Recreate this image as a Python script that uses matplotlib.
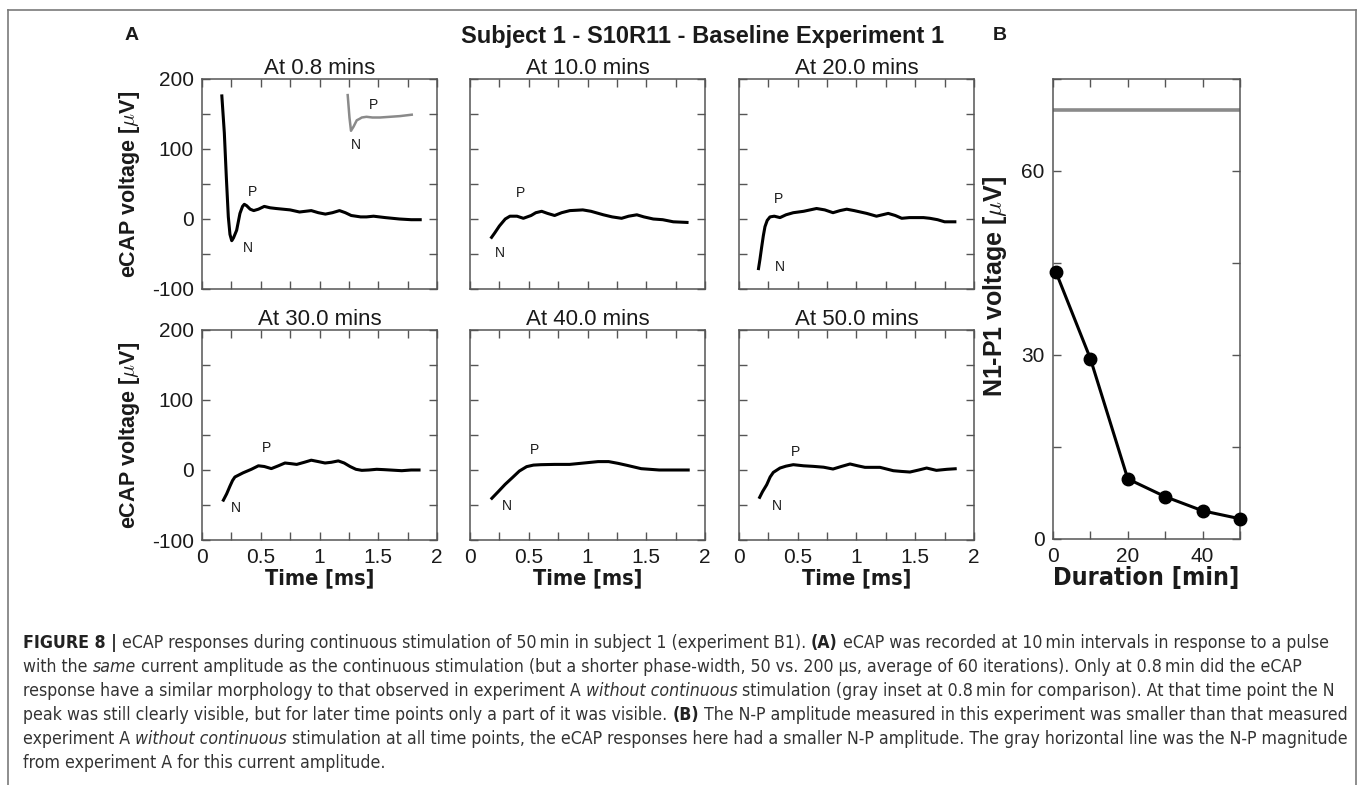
import matplotlib
matplotlib.use("Agg")
import matplotlib.pyplot as plt
import matplotlib.font_manager as fm
from matplotlib.lines import Line2D
from matplotlib.ticker import MultipleLocator

plt.rcParams['font.family'] = ['Liberation Sans', 'DejaVu Sans']
plt.rcParams['mathtext.fontset'] = 'cm'

# ---- data ----
titles = ['At 0.8 mins', 'At 10.0 mins', 'At 20.0 mins',
          'At 30.0 mins', 'At 40.0 mins', 'At 50.0 mins']

t_08 = [0.168, 0.19, 0.207, 0.224, 0.238, 0.253, 0.268, 0.295, 0.323, 0.345, 0.36, 0.38,
        0.41, 0.44, 0.48, 0.53, 0.58, 0.63, 0.69, 0.75, 0.83, 0.88, 0.93, 0.99, 1.05,
        1.11, 1.17, 1.22, 1.27, 1.35, 1.40, 1.46, 1.51, 1.56, 1.62, 1.68, 1.78, 1.87]
v_08 = [178, 123, 60, 3, -22, -31, -27, -16, 8, 18, 21, 19,
        14, 12, 14, 18, 16, 15, 14, 13, 10, 11, 12, 9, 7,
        9, 12, 9, 5, 3, 3, 4, 3, 2, 1, 0, -1, -1]

t_10 = [0.176, 0.21, 0.25, 0.30, 0.34, 0.40, 0.454, 0.52, 0.56, 0.61, 0.66, 0.72, 0.78,
        0.85, 0.96, 1.03, 1.135, 1.21, 1.29, 1.35, 1.42, 1.48, 1.56, 1.64, 1.73, 1.86]
v_10 = [-28, -20, -10, 0, 4, 4, 1, 5, 9, 11, 8, 5, 9,
        12, 13, 11, 6, 3, 1, 4, 6, 3, 0, -1, -4, -5]

t_20 = [0.164, 0.178, 0.193, 0.207, 0.221, 0.24, 0.264, 0.30, 0.349, 0.40, 0.462, 0.55,
        0.66, 0.73, 0.80, 0.86, 0.917, 0.98, 1.087, 1.17, 1.27, 1.33, 1.385, 1.45, 1.51,
        1.57, 1.625, 1.69, 1.75, 1.85]
v_20 = [-73, -58, -40, -24, -11, -2, 3, 4, 2, 6, 9, 11,
        15, 13, 9, 12, 14, 12, 8, 4, 8, 5, 1, 2, 2,
        2, 1, -1, -4, -4]

t_30 = [0.176, 0.21, 0.238, 0.26, 0.28, 0.35, 0.42, 0.48, 0.53, 0.59, 0.65, 0.706, 0.76,
        0.806, 0.87, 0.93, 0.99, 1.047, 1.10, 1.16, 1.21, 1.26, 1.31, 1.36, 1.42, 1.487,
        1.55, 1.60, 1.70, 1.78, 1.86]
v_30 = [-45, -34, -23, -15, -10, -4, 1, 6, 5, 2, 6, 10, 9,
        8, 11, 14, 12, 10, 11, 13, 10, 5, 1, -0.5, 0, 1,
        0.5, 0, -1, 0, 0]

t_40 = [0.177, 0.24, 0.299, 0.36, 0.42, 0.482, 0.54, 0.604, 0.72, 0.848, 0.97, 1.09,
        1.18, 1.26, 1.335, 1.457, 1.61, 1.74, 1.87]
v_40 = [-42, -31, -20.5, -11, -1.5, 4.8, 7, 7.6, 8, 8, 10, 12,
        12, 9.5, 6.7, 1.9, 0, 0, 0]

t_50 = [0.17, 0.2, 0.236, 0.265, 0.292, 0.349, 0.40, 0.462, 0.55, 0.632, 0.72, 0.80,
        0.87, 0.945, 1.01, 1.072, 1.2, 1.313, 1.38, 1.455, 1.53, 1.597, 1.68, 1.77, 1.853]
v_50 = [-41, -31, -21, -10, -3.4, 2.8, 5.5, 7.6, 6, 5.2, 4, 1.4,
        5, 8.6, 6, 3.8, 3.8, -1, -2, -2.9, 0, 2.8, -0.5, 1, 1.9]

traces_t = [t_08, t_10, t_20, t_30, t_40, t_50]
traces_v = [v_08, v_10, v_20, v_30, v_40, v_50]

# P / N label positions (time, voltage)
p_pos = [(0.43, 39), (0.43, 37), (0.335, 29), (0.55, 31), (0.55, 29), (0.48, 26)]
n_pos = [(0.39, -42), (0.25, -49), (0.344, -68), (0.29, -55), (0.31, -51), (0.32, -52)]

# gray inset (experiment A trace, drawn in panel coordinates)
inset_t = [1.24, 1.255, 1.268, 1.29, 1.317, 1.34, 1.36, 1.40, 1.45, 1.515, 1.60, 1.685, 1.785]
inset_v = [177, 145, 126, 132, 141, 143, 145, 146, 145, 145, 146, 147, 149]
inset_p = (1.458, 163)
inset_n = (1.31, 106)

# panel B
duration = [0.8, 10, 20, 30, 40, 50]
amplitude = [43.5, 29.4, 9.8, 6.9, 4.6, 3.3]
ref_amplitude = 70

W, H = 1360, 785
fig = plt.figure(figsize=(W / 100, H / 100), dpi=100)

spine_c = '#555555'
txt_c = '#1a1a1a'


# condensed font lookup (caption + x labels use a narrow face)
def narrow_font(weight='normal', style='normal', size=12):
    want_bold = weight == 'bold'
    want_it = style == 'italic'
    best = None
    for f in fm.fontManager.ttflist:
        name_ok = 'Narrow' in f.name or 'Condensed' in f.fname or f.stretch in ('condensed', 'semi-condensed')
        if not name_ok or 'Mono' in f.name or 'Serif' in f.name:
            continue
        is_bold = (f.weight if isinstance(f.weight, int) else 400) >= 600 or f.weight == 'bold'
        is_it = f.style in ('italic', 'oblique')
        if is_bold == want_bold and is_it == want_it:
            if best is None or 'Liberation' in f.name:
                best = f
    if best is not None:
        return fm.FontProperties(fname=best.fname, size=size)
    return fm.FontProperties(family='Liberation Sans', weight=weight, style=style, size=size)


def fx(px):
    return px / W


def fy(py):
    return 1 - py / H


def style_axes(ax):
    for s in ax.spines.values():
        s.set_color(spine_c)
        s.set_linewidth(1.1)
    ax.tick_params(which='both', direction='in', top=True, right=True,
                   length=6, width=1.0, color=spine_c, labelsize=15,
                   labelcolor=txt_c, pad=6)


lefts = [202, 470, 739]
tops = [79, 330]
aw, ah = 235, 210
axes = []
for r in range(2):
    for c in range(3):
        ax = fig.add_axes([fx(lefts[c]), fy(tops[r] + ah), aw / W, ah / H])
        axes.append(ax)

for i, ax in enumerate(axes):
    r, c = divmod(i, 3)
    ax.plot(traces_t[i], traces_v[i], color='black', lw=2.2, solid_capstyle='butt')
    ax.set_xlim(0, 2)
    ax.set_ylim(-100, 200)
    ax.xaxis.set_major_locator(MultipleLocator(0.5))
    ax.xaxis.set_minor_locator(MultipleLocator(0.25))
    ax.yaxis.set_major_locator(MultipleLocator(100))
    ax.yaxis.set_minor_locator(MultipleLocator(50))
    ax.xaxis.set_major_formatter(lambda v, p: f'{v:g}')
    ax.yaxis.set_major_formatter(lambda v, p: f'{v:g}'.replace('\u2212', '-'))
    style_axes(ax)
    ax.text(*p_pos[i], 'P', fontsize=10, ha='center', va='center', color=txt_c)
    ax.text(*n_pos[i], 'N', fontsize=10, ha='center', va='center', color=txt_c)
    ax.set_title(titles[i], fontsize=16, pad=3, color=txt_c)
    if r == 0:
        ax.tick_params(labelbottom=False)
    else:
        ax.set_xlabel('Time [ms]', fontproperties=narrow_font('bold', size=15.5),
                      labelpad=1, color=txt_c)
    if c != 0:
        ax.tick_params(labelleft=False)
    else:
        ax.set_ylabel(r'eCAP voltage [$\mu$V]', fontsize=15.5, fontweight='bold', color=txt_c)
        ax.yaxis.set_label_coords(-0.255, 0.5)

# inset in first panel
axes[0].plot(inset_t, inset_v, color='#8a8a8a', lw=1.8)
axes[0].text(*inset_p, 'P', fontsize=10, ha='center', va='center', color=txt_c)
axes[0].text(*inset_n, 'N', fontsize=10, ha='center', va='center', color=txt_c)

# panel B
axb = fig.add_axes([fx(1053), fy(539), 187 / W, 460 / H])
axb.axhline(ref_amplitude, color='#8a8a8a', lw=2.6)
axb.plot(duration, amplitude, color='black', lw=2.2, marker='o', ms=9,
         clip_on=False, zorder=5)
axb.set_xlim(0, 50)
axb.set_ylim(0, 75)
axb.xaxis.set_major_locator(MultipleLocator(20))
axb.xaxis.set_minor_locator(MultipleLocator(10))
axb.yaxis.set_major_locator(MultipleLocator(30))
axb.yaxis.set_minor_locator(MultipleLocator(15))
style_axes(axb)
axb.set_xlabel('Duration [min]', fontproperties=narrow_font('bold', size=18),
               labelpad=0, color=txt_c)
axb.set_ylabel(r'N1-P1 voltage [$\mu$V]', fontsize=18, fontweight='bold', color=txt_c)
axb.yaxis.set_label_coords(-0.235, 0.55)

# headers
fig.text(fx(132), fy(36), 'A', fontsize=14, fontweight='bold', ha='center', va='center', color=txt_c)
fig.text(fx(1000), fy(36), 'B', fontsize=14, fontweight='bold', ha='center', va='center', color=txt_c)
fig.text(fx(703), fy(36), 'Subject 1 - S10R11 - Baseline Experiment 1', fontsize=17,
         fontweight='bold', ha='center', va='center', color=txt_c)

# frame
fcol = '#7a7a7a'
fig.add_artist(Line2D([fx(8), fx(1356)], [fy(10), fy(10)], color=fcol, lw=1.2))
fig.add_artist(Line2D([fx(8), fx(8)], [fy(10), 0], color=fcol, lw=1.2))
fig.add_artist(Line2D([fx(1356), fx(1356)], [fy(10), 0], color=fcol, lw=1.2))

# caption (mixed styles)
caption = [
    [('FIGURE 8 |', 'b'), ('eCAP responses during continuous stimulation of 50\u2009min in subject 1 (experiment B1).', 'n'),
     ('(A)', 'b'), ('eCAP was recorded at 10\u2009min intervals in response to a pulse', 'n')],
    [('with the', 'n'), ('same', 'i'),
     ('current amplitude as the continuous stimulation (but a shorter phase-width, 50 vs. 200 \u03bcs, average of 60 iterations). Only at 0.8\u2009min did the eCAP', 'n')],
    [('response have a similar morphology to that observed in experiment A', 'n'), ('without continuous', 'i'),
     ('stimulation (gray inset at 0.8\u2009min for comparison). At that time point the N', 'n')],
    [('peak was still clearly visible, but for later time points only a part of it was visible.', 'n'), ('(B)', 'b'),
     ('The N-P amplitude measured in this experiment was smaller than that measured', 'n')],
    [('experiment A', 'n'), ('without continuous', 'i'),
     ('stimulation at all time points, the eCAP responses here had a smaller N-P amplitude. The gray horizontal line was the N-P magnitude', 'n')],
    [('from experiment A for this current amplitude.', 'n')],
]

renderer = fig.canvas.get_renderer()


def seg_props(style, size):
    if style == 'b':
        return narrow_font('bold', size=size), '#222222'
    if style == 'i':
        return narrow_font('normal', 'italic', size=size), '#333333'
    return narrow_font(size=size), '#333333'


def draw_line(parts, x0, y0, size, keep=True):
    fp, _ = seg_props('n', size)
    a = fig.text(0, 0, 'a a', fontproperties=fp)
    b = fig.text(0, 0, 'aa', fontproperties=fp)
    sw = a.get_window_extent(renderer).width - b.get_window_extent(renderer).width
    a.remove()
    b.remove()
    x = x0
    for j, (s, st) in enumerate(parts):
        fp, col = seg_props(st, size)
        t = fig.text(fx(x), fy(y0), s, va='baseline', ha='left', fontproperties=fp, color=col)
        x += t.get_window_extent(renderer).width
        if not keep:
            t.remove()
        if j < len(parts) - 1:
            x += sw
    return x - x0


# fit caption size so the first line spans the width seen in the figure
w12 = draw_line(caption[0], 0, 0, 12, keep=False)
cap_size = 12 * 1309 / w12
for k, parts in enumerate(caption):
    draw_line(parts, 23, 648 + 24 * k, cap_size)

fig.savefig('out.png', dpi=100)
